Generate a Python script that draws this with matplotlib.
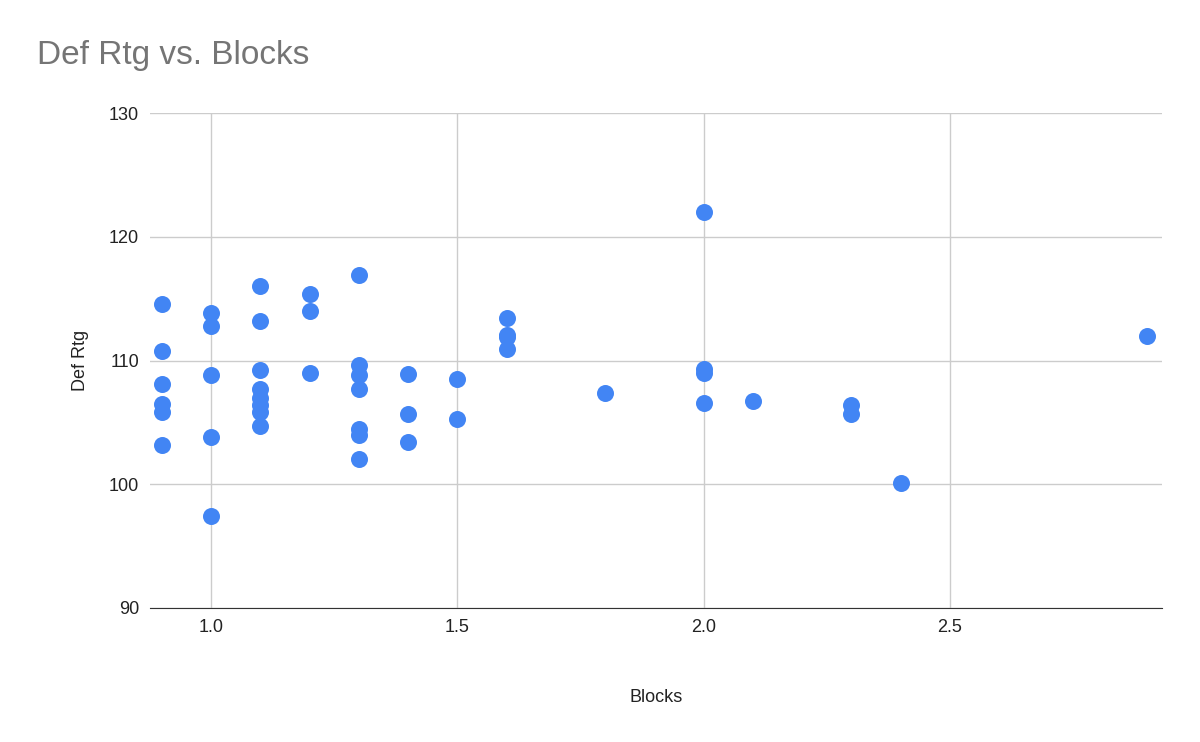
import matplotlib
matplotlib.use("Agg")
import matplotlib.pyplot as plt

blocks = [0.9]*6 + [1.0]*5 + [1.1]*8 + [1.2]*3 + [1.3]*7 + [1.4]*3 + [1.5]*2 + [1.6]*4 + [1.8] + [2.0]*4 + [2.1] + [2.3]*2 + [2.4] + [2.9]
def_rtg = [114.6, 110.8, 108.1, 106.5, 105.8, 103.2,
           113.8, 112.8, 108.8, 103.8, 97.4,
           116.0, 113.2, 109.2, 107.7, 107.0, 106.4, 105.8, 104.7,
           115.4, 114.0, 109.0,
           116.9, 109.6, 108.8, 107.7, 104.5, 104.0, 102.0,
           108.9, 105.7, 103.4,
           108.5, 105.3,
           113.4, 112.1, 111.9, 110.9,
           107.4,
           122.0, 109.3, 109.0, 106.6,
           106.7,
           106.4, 105.7,
           100.1,
           112.0]
xticks = [1.0, 1.5, 2.0, 2.5]
yticks = [90, 100, 110, 120, 130]

plt.rcParams['font.family'] = ['Liberation Sans', 'DejaVu Sans']
fig = plt.figure(figsize=(12, 7.42), dpi=100)
ax = fig.add_axes([0.125, 0.1806, 0.843, 0.6671])
ax.scatter(blocks, def_rtg, s=150, color='#4285F4', zorder=3, linewidths=0)
ax.set_xlim(0.876, 2.93)
ax.set_ylim(90, 130)
ax.set_xticks(xticks)
ax.set_xticklabels([f"{v:.1f}" for v in xticks])
ax.set_yticks(yticks)
ax.grid(True, color='#cccccc', linewidth=1)
ax.set_axisbelow(True)
for s in ['top', 'right', 'left']:
    ax.spines[s].set_visible(False)
ax.spines['bottom'].set_color('#333333')
ax.tick_params(length=0, labelsize=13, colors='#222222', pad=8)
ax.set_xlabel('Blocks', fontsize=13, labelpad=38, color='#222222')
ax.set_ylabel('Def Rtg', fontsize=13, labelpad=14, color='#222222')
fig.text(0.031, 0.925, 'Def Rtg vs. Blocks', fontsize=24, color='#757575', va='center')
fig.savefig('out.png', dpi=100)
